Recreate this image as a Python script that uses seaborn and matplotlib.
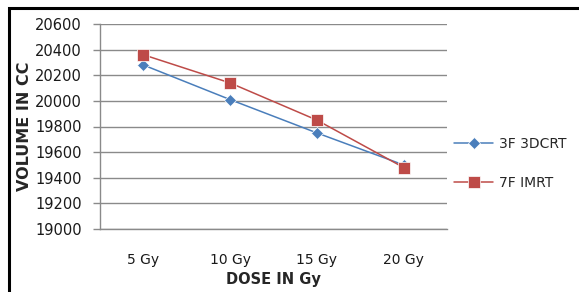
import matplotlib
matplotlib.use("Agg")
import matplotlib.pyplot as plt
import seaborn as sns
import pandas as pd
from matplotlib.patches import Rectangle

categories = ["5 Gy", "10 Gy", "15 Gy", "20 Gy"]
series_3dcrt = [20280, 20010, 19750, 19500]
series_imrt = [20360, 20140, 19850, 19480]
series_names = ["3F 3DCRT", "7F IMRT"]
y_ticks = [19000, 19200, 19400, 19600, 19800, 20000, 20200, 20400, 20600]

df = pd.DataFrame({
    "dose": categories * 2,
    "volume": series_3dcrt + series_imrt,
    "series": [series_names[0]] * 4 + [series_names[1]] * 4,
})

sns.set_theme(style="white")
plt.rcParams["font.family"] = ["DejaVu Sans"]

fig = plt.figure(figsize=(5.79, 2.92), dpi=100)
ax = fig.add_axes([100 / 579, 1 - 229 / 292, 347 / 579, 205 / 292])

palette = {series_names[0]: "#4A7EBB", series_names[1]: "#BE4B48"}
markers = {series_names[0]: "D", series_names[1]: "s"}
sns.lineplot(data=df, x="dose", y="volume", hue="series", style="series",
             palette=palette, markers=markers, dashes=False, ax=ax,
             linewidth=1.1, markersize=7, markeredgewidth=0.5, sort=False)
for line in ax.get_lines():
    if line.get_marker() == "s":
        line.set_markersize(8)
    elif line.get_marker() == "D":
        line.set_markersize(6.5)

ax.set_xlim(-0.5, 3.5)
ax.set_ylim(19000, 20600)
ax.set_yticks(y_ticks)
ax.yaxis.grid(True, color="#8a8a8a", linewidth=1.0)
ax.set_axisbelow(True)
for s in ["top", "right"]:
    ax.spines[s].set_visible(False)
for s in ["left", "bottom"]:
    ax.spines[s].set_color("#8a8a8a")
    ax.spines[s].set_linewidth(1.0)
ax.tick_params(axis="y", left=True, length=5, width=1.0, color="#8a8a8a",
               labelsize=10.5, labelcolor="#1a1a1a", pad=8)
ax.tick_params(axis="x", bottom=False, labelsize=10, labelcolor="#1a1a1a", pad=11)

ax.set_xlabel("DOSE IN Gy", fontsize=10.5, fontweight="bold", labelpad=4)
ax.set_ylabel("VOLUME IN CC", fontsize=11.5, fontweight="bold")
ax.yaxis.set_label_coords(-68 / 347, 0.5)

handles, labels = ax.get_legend_handles_labels()
ax.legend(handles, labels, loc="center left", bbox_to_anchor=(0.985, 0.32),
          frameon=False, fontsize=10, handlelength=2.8, labelspacing=1.75,
          handletextpad=0.4)

fig.patches.append(Rectangle((9 / 579, -0.2), 1.2, 1.2 - 8 / 292,
                             transform=fig.transFigure, fill=False,
                             edgecolor="black", linewidth=2.2))

fig.savefig("out.png", dpi=100)
